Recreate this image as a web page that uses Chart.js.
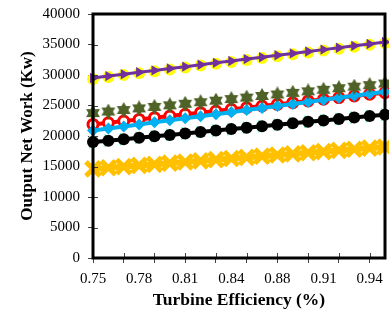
<!DOCTYPE html>
<html lang="en">
  <head>
    <meta charset="UTF-8" />
    <script src="https://cdn.jsdelivr.net/npm/chart.js@4/dist/chart.umd.min.js"></script>
    <title>Turbine Efficiency</title>
    <style>
      body { margin: 0; background: #fff; }
    </style>
  </head>
  <body>
    <canvas id="chart" width="389" height="311"></canvas>
    <script>
      const efficiency = ["0.75", "0.76", "0.77", "0.78", "0.79", "0.80", "0.81", "0.82", "0.83", "0.84",
                          "0.86", "0.87", "0.88", "0.89", "0.90", "0.91", "0.92", "0.93", "0.94", "0.95"];
      const purple = [29500, 29820, 30130, 30450, 30750, 31070, 31370, 31690, 31990, 32300,
                      32610, 32920, 33230, 33540, 33850, 34160, 34470, 34780, 35090, 35400];
      const yellow = [29350, 29670, 29980, 30300, 30600, 30920, 31220, 31540, 31840, 32150,
                      32460, 32770, 33080, 33390, 33700, 34010, 34320, 34630, 34940, 35250];
      const olive = [23750, 24010, 24260, 24520, 24770, 25030, 25280, 25540, 25790, 26050,
                     26300, 26560, 26810, 27070, 27320, 27580, 27830, 28090, 28340, 28600];
      const red = [21900, 22170, 22450, 22720, 23000, 23270, 23550, 23820, 24100, 24370,
                   24650, 24920, 25200, 25470, 25750, 26020, 26300, 26570, 26850, 27100];
      const blue = [20900, 21230, 21570, 21900, 22240, 22570, 22910, 23240, 23580, 23910,
                    24250, 24580, 24920, 25250, 25590, 25920, 26260, 26590, 26930, 27250];
      const black = [19000, 19240, 19470, 19710, 19950, 20180, 20420, 20660, 20890, 21130,
                     21370, 21610, 21840, 22080, 22320, 22550, 22790, 23030, 23260, 23500];
      const gold = [14600, 14790, 14980, 15170, 15360, 15550, 15740, 15930, 16120, 16310,
                    16500, 16690, 16880, 17070, 17260, 17450, 17640, 17830, 18020, 18200];
      const yTicks = [0, 5000, 10000, 15000, 20000, 25000, 30000, 35000, 40000];

      const serif = "'Liberation Serif', 'Times New Roman', serif";

      // filled six-point star for the olive series
      const star = document.createElement("canvas");
      star.width = 16;
      star.height = 16;
      const sctx = star.getContext("2d");
      sctx.fillStyle = "#4F6228";
      sctx.beginPath();
      for (let i = 0; i < 12; i++) {
        const r = i % 2 === 0 ? 8 : 4.6;
        const a = -Math.PI / 2 + (i * Math.PI) / 6;
        const px = 8 + r * Math.cos(a);
        const py = 8 + r * Math.sin(a);
        if (i === 0) sctx.moveTo(px, py);
        else sctx.lineTo(px, py);
      }
      sctx.closePath();
      sctx.fill();

      // box border + ticks crossing into the plot
      const frame = {
        id: "frame",
        afterDatasetsDraw(chart) {
          const { ctx, chartArea: a, scales } = chart;
          ctx.save();
          ctx.strokeStyle = "#444";
          ctx.lineWidth = 1;
          scales.y.ticks.forEach((t, i) => {
            const py = Math.round(scales.y.getPixelForTick(i)) + 0.5;
            ctx.beginPath();
            ctx.moveTo(a.left, py);
            ctx.lineTo(a.left + 5, py);
            ctx.stroke();
          });
          scales.x.ticks.forEach((t, i) => {
            if (i % 2 !== 0) return;
            const px = Math.round(scales.x.getPixelForTick(i)) + 0.5;
            ctx.beginPath();
            ctx.moveTo(px, a.bottom);
            ctx.lineTo(px, a.bottom - 5);
            ctx.stroke();
          });
          ctx.strokeStyle = "#000";
          ctx.lineWidth = 3;
          ctx.strokeRect(a.left, a.top, a.right - a.left, a.bottom - a.top);
          ctx.restore();
        },
      };

      new Chart(document.getElementById("chart"), {
        type: "line",
        data: {
          labels: efficiency,
          datasets: [
            {
              label: "purple",
              data: purple,
              borderColor: "#7030A0",
              backgroundColor: "#7030A0",
              borderWidth: 3,
              pointStyle: "triangle",
              rotation: 90,
              pointRadius: 6,
              pointBorderWidth: 0,
              order: 0,
            },
            {
              label: "yellow",
              data: yellow,
              showLine: false,
              backgroundColor: "#FFFF00",
              borderColor: "#FFFF00",
              pointStyle: "circle",
              pointRadius: 6,
              pointBorderWidth: 0,
              order: 1,
            },
            {
              label: "olive",
              data: olive,
              showLine: false,
              pointStyle: star,
              order: 2,
            },
            {
              label: "blue",
              data: blue,
              borderColor: "#00B0F0",
              backgroundColor: "#00B0F0",
              borderWidth: 4,
              pointStyle: "rectRot",
              pointRadius: 6,
              pointBorderWidth: 0,
              order: 3,
            },
            {
              label: "red",
              data: red,
              borderColor: "#FF0000",
              backgroundColor: "#FFFFFF",
              borderWidth: 4,
              pointStyle: "circle",
              pointRadius: 5,
              pointBorderWidth: 3,
              order: 4,
            },
            {
              label: "black",
              data: black,
              borderColor: "#000000",
              backgroundColor: "#000000",
              borderWidth: 4,
              pointStyle: "circle",
              pointRadius: 6,
              pointBorderWidth: 0,
              order: 5,
            },
            {
              label: "black triangle",
              data: black,
              showLine: false,
              borderColor: "#7FFFD4",
              backgroundColor: "#000000",
              pointStyle: "triangle",
              rotation: 90,
              pointRadius: 7,
              pointBorderWidth: 1,
              order: 6,
            },
            {
              label: "gold",
              data: gold,
              borderColor: "#FFC000",
              backgroundColor: "#FFC000",
              borderWidth: 6,
              pointStyle: "crossRot",
              pointRadius: 10,
              pointBorderWidth: 5,
              order: 7,
            },
          ],
        },
        options: {
          responsive: false,
          animation: false,
          clip: false,
          layout: { autoPadding: false, padding: { top: 14, right: 4, left: 0, bottom: 0 } },
          plugins: { legend: { display: false }, tooltip: { enabled: false } },
          elements: { line: { tension: 0 } },
          scales: {
            x: {
              offset: false,
              grid: {
                drawOnChartArea: false,
                tickLength: 5,
                tickColor: (c) => (c.index % 2 === 0 ? "#444" : "rgba(0,0,0,0)"),
              },
              border: { display: false },
              ticks: {
                autoSkip: false,
                maxRotation: 0,
                padding: 7,
                color: "#000",
                font: { family: serif, size: 15 },
                callback: (v, i) => (i % 3 === 0 ? efficiency[i] : ""),
              },
              title: {
                display: true,
                text: "Turbine Efficiency (%)",
                color: "#000",
                font: { family: serif, size: 17.5, weight: "bold" },
                padding: { top: 0, bottom: 0 },
              },
              afterFit: (s) => {
                s.height = 53;
                s.paddingLeft = 0;
                s.paddingRight = 0;
              },
            },
            y: {
              min: 0,
              max: 40000,
              afterBuildTicks: (s) => { s.ticks = yTicks.map((v) => ({ value: v })); },
              grid: { drawOnChartArea: false, tickLength: 5, tickColor: "#444" },
              border: { display: false },
              ticks: {
                padding: 8,
                color: "#000",
                font: { family: serif, size: 15 },
                callback: (v) => String(v),
              },
              title: {
                display: true,
                text: "Output Net Work (Kw)",
                color: "#000",
                font: { family: serif, size: 17, weight: "bold" },
                padding: { top: 17, bottom: 0 },
              },
              afterFit: (s) => {
                s.width = 93;
                s.paddingTop = 0;
                s.paddingBottom = 0;
              },
            },
          },
        },
        plugins: [frame],
      });
    </script>
  </body>
</html>
